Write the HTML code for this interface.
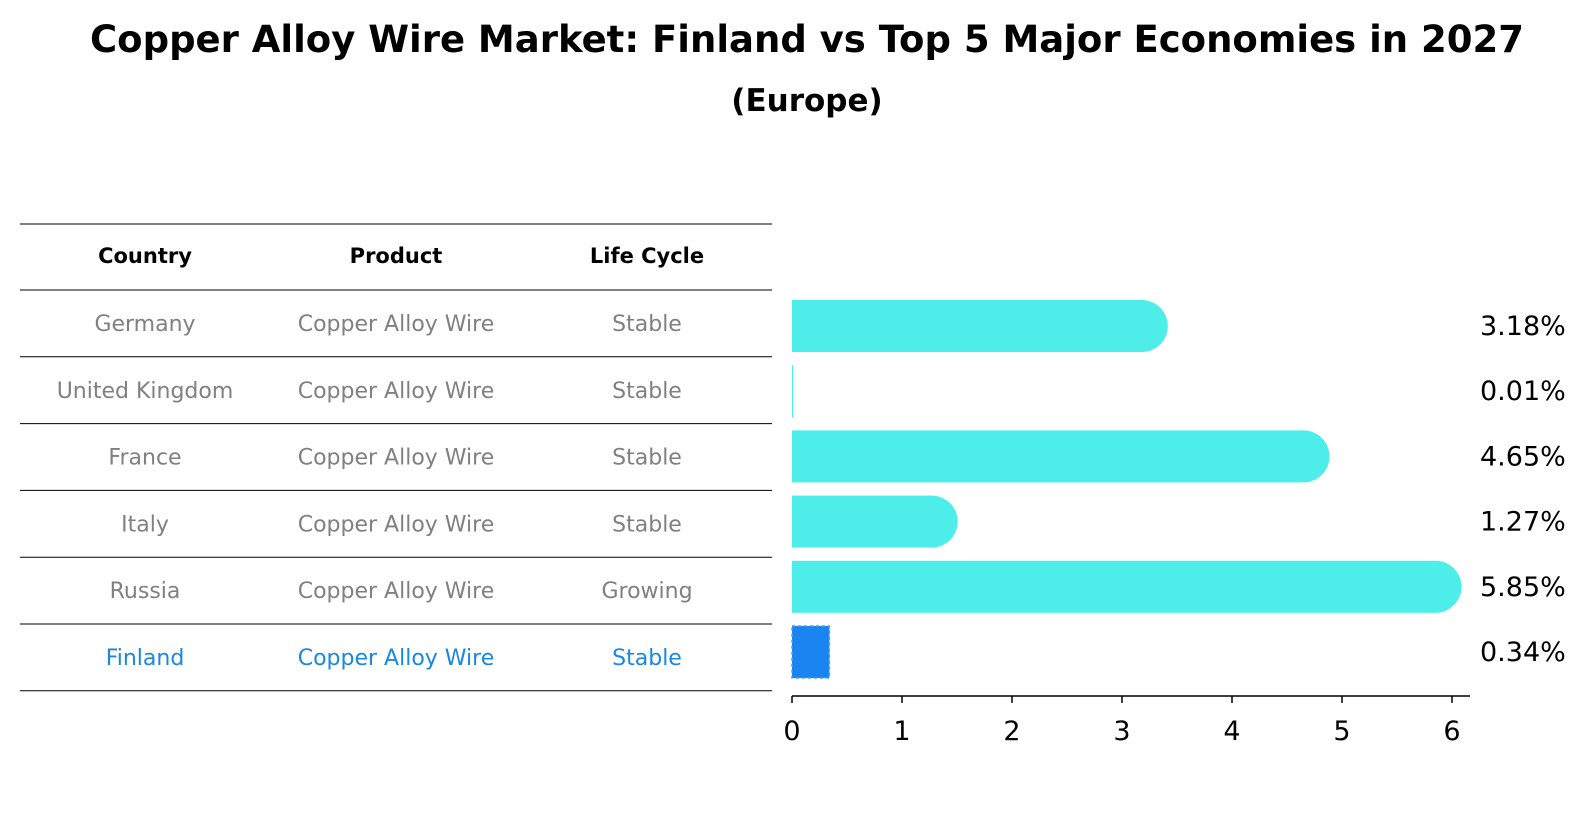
<!DOCTYPE html>
<html><head><meta charset="utf-8"><style>
body{margin:0;background:#fff;font-family:"DejaVu Sans","Liberation Sans",sans-serif;}
#root{position:relative;width:1586px;height:823px;overflow:hidden;}
</style></head><body>
<div id="root">
<svg id="svg" width="1586" height="823" style="position:absolute;left:0;top:0">
<text x="807" y="52" font-size="37" font-weight="bold" text-anchor="middle" font-family="DejaVu Sans, Liberation Sans, sans-serif">Copper Alloy Wire Market: Finland vs Top 5 Major Economies in 2027</text>
<text x="807" y="111" font-size="31" font-weight="bold" text-anchor="middle" font-family="DejaVu Sans, Liberation Sans, sans-serif">(Europe)</text>
</svg>
</div>
<script>
const countries=["Germany","United Kingdom","France","Italy","Russia","Finland"];
const products=["Copper Alloy Wire","Copper Alloy Wire","Copper Alloy Wire","Copper Alloy Wire","Copper Alloy Wire","Copper Alloy Wire"];
const lifeCycles=["Stable","Stable","Stable","Stable","Growing","Stable"];
const values=[3.18,0.01,4.65,1.27,5.85,0.34];
const ticks=[0,1,2,3,4,5,6];
const NS="http://www.w3.org/2000/svg";
const svg=document.getElementById('svg');
const x0=792,pxu=110,barH=52,barC0=326,barStep=65.2;
const tTop=224,tHead=290,tStep=66.8;
const xs=v=>x0+v*pxu;
const yc=i=>barC0+barStep*i;
function mk(t,a){const e=document.createElementNS(NS,t);for(const k in a)e.setAttribute(k,a[k]);svg.appendChild(e);return e;}
function txt(x,y,s,size,fill,anchor,weight){const e=mk('text',{x:x,y:y,'font-size':size,fill:fill,'text-anchor':anchor,'font-weight':weight||'normal','font-family':'DejaVu Sans, Liberation Sans, sans-serif'});e.textContent=s;return e;}
const lineYs=[tTop];
for(let i=0;i<=countries.length;i++)lineYs.push(tHead+i*tStep);
lineYs.forEach(y=>{const l=mk('line',{x1:20,x2:772,y1:y,y2:y,stroke:'#000','stroke-width':1});

});
const colX=[145,396,647];
["Country","Product","Life Cycle"].forEach((h,j)=>{const e=txt(colX[j],263,h,21,'#000','middle','bold');

});
countries.forEach((c,i)=>{
 const col=i===countries.length-1?'#1a88e0':'#808080';
 const y=tHead+tStep*i+41;
 [c,products[i],lifeCycles[i]].forEach((s,j)=>{const e=txt(colX[j],y,s,22,col,'middle');
 
 });
});
values.forEach((v,i)=>{
 const cy=yc(i);
 const top=cy-barH/2;
 const fin=i===values.length-1;
 if(fin){
  const r=mk('rect',{x:x0,y:top,width:xs(v)-x0,height:barH,fill:'#1a84f0',stroke:'#4a9ff0','stroke-dasharray':'3,3','stroke-width':1.5});
  
  
 } else {
  const g=document.createElementNS(NS,'g');svg.appendChild(g);
  
  
  const w=Math.max(xs(v)-x0,1);
  const r=document.createElementNS(NS,'rect');r.setAttribute('x',x0);r.setAttribute('y',top);r.setAttribute('width',w);r.setAttribute('height',barH);r.setAttribute('fill','#4deeea');g.appendChild(r);
  if(v>0.05){const c=document.createElementNS(NS,'circle');c.setAttribute('cx',xs(v));c.setAttribute('cy',cy);c.setAttribute('r',barH/2);c.setAttribute('fill','#4deeea');g.appendChild(c);}
 }
 const l=txt(1480,cy+9,v.toFixed(2)+'%',27,'#000','start');
 
 
});
const ax=mk('line',{x1:x0,x2:1470,y1:696,y2:696,stroke:'#000','stroke-width':1.5});


ticks.forEach(t=>{const tk=mk('line',{x1:xs(t),x2:xs(t),y1:696,y2:703,stroke:'#000','stroke-width':1.5});


const e=txt(xs(t),740,String(t),27,'#000','middle');

});
</script>
</body></html>
